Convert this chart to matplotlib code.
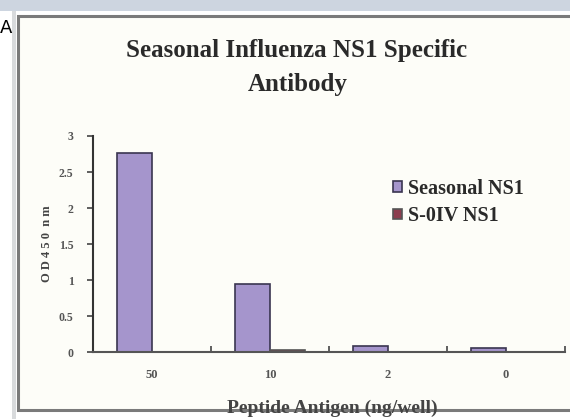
import matplotlib
matplotlib.use("Agg")
import matplotlib.pyplot as plt
import numpy as np
from matplotlib.patches import Rectangle

# data
doses = ["50", "10", "2", "0"]
seasonal_ns1 = [2.77, 0.95, 0.09, 0.06]
soiv_ns1 = [0.0, 0.03, 0.0, 0.0]
series_names = ["Seasonal NS1", "S-0IV NS1"]
y_ticks = [0, 0.5, 1, 1.5, 2, 2.5, 3]
y_tick_labels = ["0", "0.5", "1", "1.5", "2", "2.5", "3"]

W, H = 570, 419
fig = plt.figure(figsize=(W / 100, H / 100), dpi=100)
fig.patch.set_facecolor("white")

serif = ["Liberation Serif", "DejaVu Serif"]

# page decoration: top band, left strip, panel frame (behind the axes)
fig.add_artist(Rectangle((0, 1 - 11 / H), 1, 11 / H, transform=fig.transFigure,
                         facecolor="#cdd5e0", edgecolor="none", zorder=-10))
fig.add_artist(Rectangle((12 / W, 0), 4 / W, 1 - 11 / H, transform=fig.transFigure,
                         facecolor="#d8dadc", edgecolor="none", zorder=-10))
fig.add_artist(Rectangle((18 / W, 9 / H), 1 - 18 / W + 0.01, 1 - 25 / H,
                         transform=fig.transFigure, facecolor="#fdfdf8",
                         edgecolor="#7a7a7a", linewidth=2.2, zorder=-9))
fig.text(0 / W, 1 - 28 / H, "A", fontsize=13, family=["DejaVu Sans"], va="center", ha="left")

# axes: left 93, right 565, bottom (zero) 352, top (3.0) 136
x0, x1 = 93, 565
yb, yt = 352, 136
ax = fig.add_axes([x0 / W, 1 - yb / H, (x1 - x0) / W, (yb - yt) / H])
ax.set_facecolor("none")

x = np.arange(len(doses))
w = 0.30
ax.bar(x - w / 2, seasonal_ns1, w, color="#a595cc", edgecolor="#3a3550",
       linewidth=1.2, label=series_names[0])
ax.bar(x + w / 2, soiv_ns1, w, color="#8c3d4e", edgecolor="#555555",
       linewidth=1.2, label=series_names[1])

ax.set_xlim(-0.5, len(doses) - 0.5)
ax.set_ylim(0, 3)
ax.set_yticks(y_ticks)
ax.set_yticklabels(y_tick_labels, family=serif, fontsize=8.5, fontweight="bold", color="#555555")
ax.set_xticks(x)
ax.set_xticklabels(doses, family=serif, fontsize=9, fontweight="bold", color="#555555")
ax.set_xticks(np.arange(len(doses) + 1) - 0.5, minor=True)
ax.tick_params(axis="x", which="major", length=0, pad=12)
ax.tick_params(axis="x", which="minor", length=4, width=1.2, direction="in", color="#444444")
ax.tick_params(axis="y", length=4, width=1.2, direction="out", color="#444444", pad=10)

for side in ["top", "right"]:
    ax.spines[side].set_visible(False)
ax.spines["left"].set_linewidth(1.5)
ax.spines["left"].set_color("#333333")
ax.spines["bottom"].set_linewidth(1.5)
ax.spines["bottom"].set_color("#555555")

ax.set_ylabel("O D 4 5 0  n m", family=serif, fontsize=9, fontweight="bold", color="#444444", labelpad=4)
fig.text(332 / W, 1 - 408 / H, "Peptide Antigen (ng/well)", family=serif, fontsize=14,
         fontweight="bold", color="#444444", ha="center", va="center")

fig.text(297 / W, 1 - 50 / H, "Seasonal Influenza NS1 Specific", family=serif,
         fontsize=18, fontweight="bold", color="#2a2a2a", ha="center", va="center")
fig.text(298 / W, 1 - 85 / H, "Antibody", family=serif,
         fontsize=18, fontweight="bold", color="#2a2a2a", ha="center", va="center")

leg = ax.legend(loc="upper left", bbox_to_anchor=((385 - x0) / (x1 - x0), (yb - 171) / (yb - yt)),
                frameon=False, prop={"family": serif, "size": 14.5, "weight": "bold"},
                handlelength=0.45, handleheight=0.45, handletextpad=0.3, labelspacing=0.35,
                borderaxespad=0)
for t in leg.get_texts():
    t.set_color("#2a2a2a")

fig.savefig("out.png", dpi=100)
